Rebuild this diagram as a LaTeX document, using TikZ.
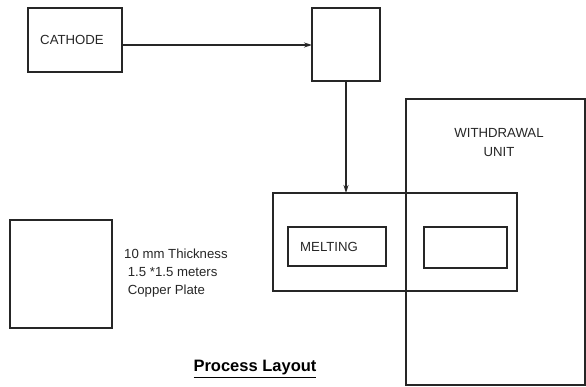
\documentclass[tikz,border=0pt]{standalone}
\usepackage{fontspec}
\setmainfont{Liberation Sans}
\usetikzlibrary{calc,arrows.meta}
\begin{document}
\begin{tikzpicture}[x=1pt,y=-1pt,
  box/.style={draw=black!85,line width=1.4pt,rectangle,anchor=north west,inner sep=0pt,outer sep=0pt},
  lbl/.style={text=black!85,font=\fontsize{13.2}{15}\selectfont,inner sep=0pt},
  conn/.style={draw=black!85,line width=1.2pt,-{Stealth[length=8pt,width=5pt]}}]
\useasboundingbox (0,0) rectangle (586,387);
% boxes
\node[box,minimum width=94pt,minimum height=64pt] (cath) at (28,8) {};
\node[lbl] (cathtxt) at ($(cath.center)+(-3,0)$) {CATHODE};
\node[box,minimum width=68pt,minimum height=73pt] (sq) at (312,8) {};
\node[box,minimum width=179pt,minimum height=286pt] (wd) at (406,99) {};
\node[box,minimum width=244pt,minimum height=98pt] (melt) at (273,193) {};
\node[box,minimum width=98pt,minimum height=39pt] (meltin) at (288,227) {};
\node[lbl,anchor=west] (melttxt) at ($(meltin.west)+(12,0)$) {MELTING};
\node[box,minimum width=83pt,minimum height=41pt] (rin) at (424,227) {};
\node[lbl,align=center,font=\fontsize{13.2}{19}\selectfont] (wdtxt) at (499,143) {WITHDRAWAL\\UNIT};
\node[box,minimum width=102pt,minimum height=108pt] (plate) at (10,220) {};
\node[lbl,anchor=north west,align=left,font=\fontsize{13.2}{18}\selectfont] (platetxt) at (124,249) {10 mm Thickness\\\ 1.5 *1.5 meters\\\ Copper Plate};
\node[text=black,font=\bfseries\fontsize{16.5}{19}\selectfont,inner sep=0pt] (title) at (255,369) {\underline{Process Layout}};
% connectors
\coordinate (cstart) at ($(cath.east)+(0,5)$);
\draw[conn] (cstart) -- (cstart -| sq.west);
\draw[conn] (sq.south) -- (sq.south |- melt.north);
\end{tikzpicture}
\end{document}
